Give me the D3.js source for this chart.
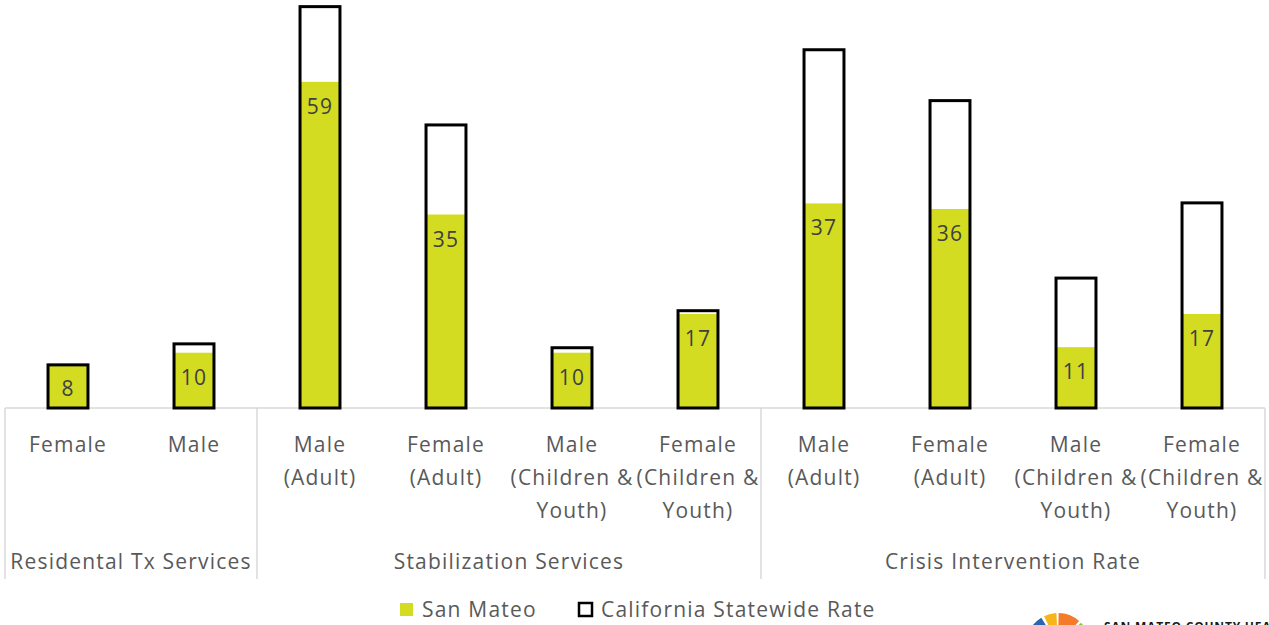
<!DOCTYPE html>
<html>
<head>
<meta charset="utf-8">
<script src="https://cdn.jsdelivr.net/npm/d3@7"></script>
<style>
  html, body { margin: 0; padding: 0; background: #fff; }
  svg { display: block; }
  text { font-family: "Open Sans", sans-serif; letter-spacing: 1.2px; }
</style>
</head>
<body>
<svg id="chart" width="1269" height="625"></svg>
<script>
// Per-category rates: San Mateo vs. California statewide
const categories = [
  "Female", "Male",
  "Male (Adult)", "Female (Adult)", "Male (Children & Youth)", "Female (Children & Youth)",
  "Male (Adult)", "Female (Adult)", "Male (Children & Youth)", "Female (Children & Youth)"
];
const groups = ["Residental Tx Services", "Stabilization Services", "Crisis Intervention Rate"];
const sanMateo = [8, 10, 59, 35, 10, 17, 37, 36, 11, 17];
const statewide = [7.8, 11.6, 72.6, 51.2, 10.9, 17.6, 64.8, 55.6, 23.5, 37.1];
const seriesNames = ["San Mateo", "California Statewide Rate"];

const GREEN = "#d3dc21";
const FS = 21;
const svg = d3.select("#chart");

const x = d3.scaleBand()
  .domain(d3.range(categories.length))
  .range([5, 1265])
  .paddingInner(0.683)
  .paddingOuter(0.3415);
const y = d3.scaleLinear().domain([0, 73.8]).range([408, 0]);

// Axis line and group separators (drawn beneath the bars)
const axisColor = "#d9d9d9";
svg.append("line")
  .attr("x1", 5).attr("x2", 1265).attr("y1", 408).attr("y2", 408)
  .attr("stroke", axisColor).attr("stroke-width", 1.5);
const bounds = [0, 2, 6, 10].map(i => i === 10 ? x.range()[1] : x(i) - x.step() * x.paddingOuter());
svg.append("g").selectAll("line")
  .data(bounds)
  .join("line")
  .attr("x1", d => d).attr("x2", d => d)
  .attr("y1", 408).attr("y2", 579)
  .attr("stroke", axisColor).attr("stroke-width", 1.5);

// San Mateo bars (filled)
svg.append("g").selectAll("rect")
  .data(sanMateo)
  .join("rect")
  .attr("x", (d, i) => x(i))
  .attr("width", x.bandwidth())
  .attr("y", d => y(d))
  .attr("height", d => y(0) - y(d))
  .attr("fill", GREEN);

// Statewide bars (outline only, overlapping)
svg.append("g").selectAll("rect")
  .data(statewide)
  .join("rect")
  .attr("x", (d, i) => x(i))
  .attr("width", x.bandwidth())
  .attr("y", d => y(d))
  .attr("height", d => y(0) - y(d))
  .attr("fill", "none")
  .attr("stroke", "#000")
  .attr("stroke-width", 3);

// Value labels inside the top of each San Mateo bar
svg.append("g").selectAll("text")
  .data(sanMateo)
  .join("text")
  .attr("x", (d, i) => x(i) + x.bandwidth() / 2)
  .attr("y", d => y(d) + 32)
  .attr("text-anchor", "middle")
  .attr("font-size", FS)
  .attr("fill", "#404040")
  .text(d => d);

// Category axis
const axis = d3.axisBottom(x).tickSize(0).tickFormat(i => categories[i]);
const axisG = svg.append("g").attr("transform", "translate(0,408)").call(axis);
axisG.select(".domain").remove();
axisG.selectAll(".tick text")
  .attr("font-size", FS)
  .attr("fill", "#595959")
  .attr("font-family", "'Open Sans', sans-serif")
  .attr("y", 0)
  .attr("dy", 0)
  .each(function(i) {
    const lines = categories[i].replace(" (", "\n(").replace(" Youth", "\nYouth").split("\n");
    const t = d3.select(this).text(null);
    lines.forEach((ln, k) => {
      t.append("tspan").attr("x", 0).attr("y", 44 + k * 33).text(ln);
    });
  });

// Group labels
svg.append("g").selectAll("text")
  .data(groups)
  .join("text")
  .attr("x", (d, g) => (bounds[g] + bounds[g + 1]) / 2)
  .attr("y", 569)
  .attr("text-anchor", "middle")
  .attr("font-size", FS)
  .attr("fill", "#595959")
  .text(d => d);

// Legend
const legend = svg.append("g");
const legendItems = [
  { name: seriesNames[0], x: 400, fill: GREEN, stroke: "none" },
  { name: seriesNames[1], x: 579, fill: "none", stroke: "#000" }
];
legendItems.forEach(it => {
  legend.append("rect")
    .attr("x", it.x).attr("y", 603).attr("width", 13).attr("height", 13)
    .attr("fill", it.fill)
    .attr("stroke", it.stroke).attr("stroke-width", 2.5);
  legend.append("text")
    .attr("x", it.x + 22).attr("y", 617)
    .attr("font-size", FS).attr("fill", "#595959")
    .text(it.name);
});

// County health logo, partly cut at the bottom edge
const logo = svg.append("g").attr("transform", "translate(1058,645)");
const wedges = [
  { a0: -1.25, a1: -0.55, c: "#2e63ae" },
  { a0: -0.45, a1: -0.05, c: "#f5b51b" },
  { a0: 0.02, a1: 0.72, c: "#f47b2a" },
  { a0: 0.8, a1: 1.3, c: "#8fbf3f" }
];
wedges.forEach(w => {
  logo.append("path")
    .attr("d", d3.arc()({ innerRadius: 15, outerRadius: 32, startAngle: w.a0, endAngle: w.a1 }))
    .attr("fill", w.c);
});
svg.append("text")
  .attr("x", 1104).attr("y", 631)
  .attr("font-size", 12).attr("font-weight", 700)
  .attr("fill", "#1a1a1a")
  .style("letter-spacing", "0.8px")
  .attr("font-family", "Arial, 'Liberation Sans', sans-serif")
  .text("SAN MATEO COUNTY HEALTH");
</script>
</body>
</html>
